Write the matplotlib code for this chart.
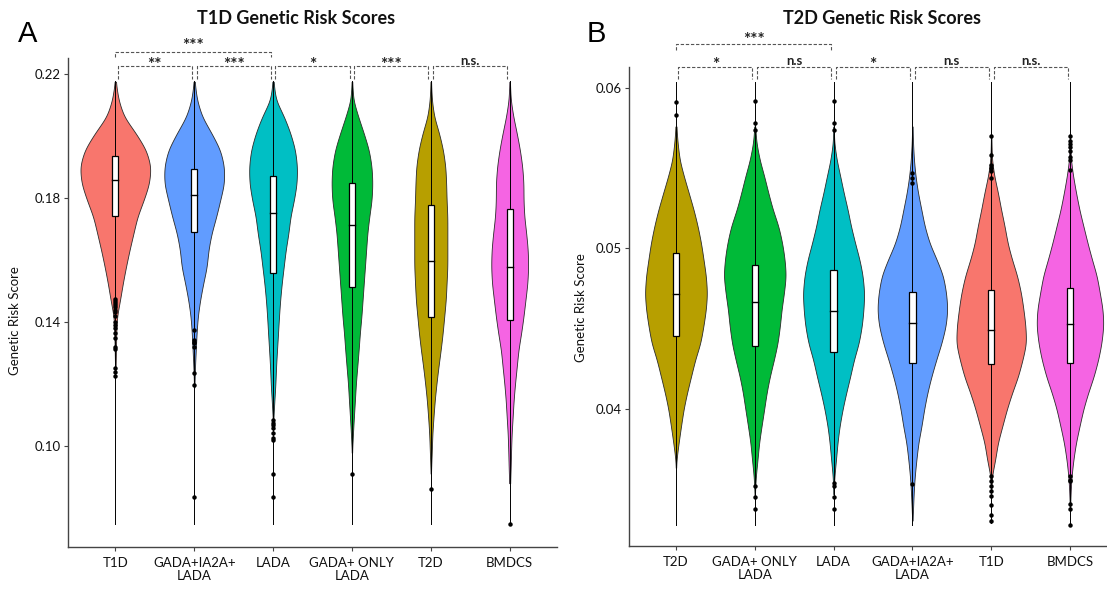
import numpy as np
import matplotlib.pyplot as plt
from matplotlib.patches import Rectangle

plt.rcParams['font.family'] = ['Lato', 'DejaVu Sans']

# ---------------- panel A : T1D genetic risk scores ----------------
a_labels = ["T1D", "GADA+IA2A+\nLADA", "LADA", "GADA+ ONLY\nLADA", "T2D", "BMDCS"]
a_colors = ['#F8766D', '#619CFF', '#00BFC4', '#00BA38', '#B79F00', '#F564E3']

# score levels at which the violin half widths were taken
a_grid = [0.2175, 0.2116, 0.2062, 0.2009, 0.1955, 0.1901, 0.1847, 0.1793, 0.1740,
          0.1686, 0.1632, 0.1578, 0.1525, 0.1471, 0.1417, 0.1363, 0.1309, 0.1256,
          0.1202, 0.1148, 0.1094, 0.1041, 0.0987, 0.0933, 0.0880]
a_t1d_w = [0.005, 0.04, 0.11, 0.26, 0.39, 0.45, 0.43, 0.36, 0.28, 0.23, 0.18, 0.135,
           0.095, 0.06, 0.02, 0.012, 0.008, 0.004, 0, 0, 0, 0, 0, 0, 0]
a_gada_ia2a_w = [0.005, 0.035, 0.10, 0.22, 0.33, 0.38, 0.38, 0.33, 0.28, 0.22, 0.18, 0.16,
                 0.115, 0.075, 0.045, 0.03, 0.02, 0.01, 0.004, 0, 0, 0, 0, 0, 0]
a_lada_w = [0.005, 0.035, 0.14, 0.22, 0.28, 0.305, 0.30, 0.265, 0.22, 0.195, 0.16, 0.135,
            0.11, 0.09, 0.075, 0.063, 0.05, 0.038, 0.03, 0.017, 0.005, 0, 0, 0, 0]
a_gada_only_w = [0.003, 0.017, 0.08, 0.15, 0.215, 0.25, 0.26, 0.25, 0.22, 0.195, 0.18, 0.165,
                 0.15, 0.135, 0.12, 0.10, 0.085, 0.068, 0.05, 0.038, 0.025, 0.013, 0.003, 0, 0]
a_t2d_w = [0.003, 0.013, 0.042, 0.105, 0.155, 0.185, 0.195, 0.20, 0.21, 0.21, 0.21, 0.21,
           0.20, 0.19, 0.17, 0.15, 0.125, 0.097, 0.072, 0.05, 0.034, 0.02, 0.013, 0.005, 0]
a_bmdcs_w = [0.003, 0.013, 0.046, 0.09, 0.13, 0.16, 0.175, 0.175, 0.185, 0.21, 0.23, 0.235,
             0.225, 0.20, 0.175, 0.145, 0.11, 0.09, 0.068, 0.05, 0.038, 0.025, 0.018, 0.013, 0.006]

a_q1 = [0.1742, 0.1689, 0.1559, 0.1512, 0.1417, 0.1408]
a_med = [0.1857, 0.1809, 0.1750, 0.1713, 0.1596, 0.1576]
a_q3 = [0.1936, 0.1894, 0.1872, 0.1849, 0.1779, 0.1764]
a_lo = [0.0750, 0.0750, 0.0750, 0.0750, 0.0750, 0.0748]
a_hi = [0.2177, 0.2177, 0.2177, 0.2177, 0.2177, 0.2177]

a_t1d_out = [0.1475, 0.1468, 0.1461, 0.1454, 0.1447, 0.1440, 0.1433, 0.1420, 0.1401,
             0.1390, 0.1380, 0.1363, 0.1348, 0.1320, 0.1312, 0.1250, 0.1240, 0.1225]
a_gada_ia2a_out = [0.1374, 0.1342, 0.1337, 0.1331, 0.1320, 0.1236, 0.1197, 0.0837]
a_lada_out = [0.1084, 0.1075, 0.1068, 0.1057, 0.1041, 0.1025, 0.1019, 0.0911, 0.0837]
a_gada_only_out = [0.0911]
a_t2d_out = [0.0861]
a_bmdcs_out = [0.0749]

a_pairs = [(1, 2, '**'), (2, 3, '***'), (3, 4, '*'), (4, 5, '***'), (5, 6, 'n.s.')]
a_wide = (1, 3, '***')

# ---------------- panel B : T2D genetic risk scores ----------------
b_labels = ["T2D", "GADA+ ONLY\nLADA", "LADA", "GADA+IA2A+\nLADA", "T1D", "BMDCS"]
b_colors = ['#B79F00', '#00BA38', '#00BFC4', '#619CFF', '#F8766D', '#F564E3']

b_grid = [0.0576, 0.0566, 0.0555, 0.0545, 0.0535, 0.0524, 0.0514, 0.0503, 0.0493,
          0.0483, 0.0472, 0.0462, 0.0452, 0.0441, 0.0431, 0.0420, 0.0410, 0.0400,
          0.0389, 0.0379, 0.0368, 0.0358, 0.0348, 0.0337, 0.0327]
b_t2d_w = [0.005, 0.02, 0.047, 0.10, 0.16, 0.225, 0.275, 0.32, 0.35, 0.38, 0.395, 0.38,
           0.35, 0.31, 0.245, 0.19, 0.14, 0.097, 0.063, 0.034, 0.005, 0, 0, 0, 0]
b_gada_only_w = [0.005, 0.02, 0.063, 0.12, 0.17, 0.23, 0.30, 0.35, 0.38, 0.395, 0.37, 0.34,
                 0.32, 0.29, 0.245, 0.19, 0.15, 0.12, 0.085, 0.055, 0.034, 0.013, 0.003, 0, 0]
b_lada_w = [0.003, 0.008, 0.04, 0.085, 0.127, 0.18, 0.22, 0.275, 0.33, 0.37, 0.39, 0.38,
            0.36, 0.32, 0.26, 0.21, 0.16, 0.115, 0.075, 0.05, 0.03, 0.01, 0.003, 0, 0]
b_gada_ia2a_w = [0.003, 0.008, 0.02, 0.04, 0.07, 0.115, 0.155, 0.22, 0.31, 0.39, 0.43, 0.445,
                 0.425, 0.37, 0.305, 0.24, 0.19, 0.15, 0.115, 0.076, 0.05, 0.03, 0.017, 0.008, 0]
b_t1d_w = [0.002, 0.004, 0.01, 0.04, 0.085, 0.127, 0.17, 0.21, 0.265, 0.33, 0.38, 0.41,
           0.435, 0.445, 0.40, 0.34, 0.265, 0.20, 0.14, 0.085, 0.05, 0.008, 0.002, 0, 0]
b_bmdcs_w = [0.002, 0.004, 0.012, 0.04, 0.076, 0.12, 0.17, 0.225, 0.28, 0.34, 0.38, 0.415,
             0.425, 0.40, 0.36, 0.30, 0.23, 0.17, 0.12, 0.076, 0.042, 0.02, 0.008, 0.002, 0]

b_q1 = [0.04457, 0.04394, 0.04353, 0.04286, 0.04282, 0.04286]
b_med = [0.04716, 0.04666, 0.04608, 0.04536, 0.04494, 0.04532]
b_q3 = [0.04972, 0.04899, 0.04864, 0.04729, 0.04743, 0.04754]
b_lo = [0.0328, 0.0328, 0.0328, 0.0328, 0.0329, 0.0328]
b_hi = [0.0604, 0.0604, 0.0604, 0.0604, 0.0604, 0.0604]

b_t2d_out = [0.0591, 0.0583]
b_gada_only_out = [0.0592, 0.0578, 0.0574, 0.0352, 0.0345, 0.0338]
b_lada_out = [0.0592, 0.0578, 0.0574, 0.0354, 0.0352, 0.0345, 0.0338]
b_gada_ia2a_out = [0.0547, 0.0544, 0.0541, 0.0353]
b_t1d_out = [0.0570, 0.0558, 0.0552, 0.0550, 0.0548, 0.0544, 0.0358, 0.0355, 0.0352,
             0.0349, 0.0346, 0.0340, 0.0334, 0.0330]
b_bmdcs_out = [0.0570, 0.0567, 0.0565, 0.0563, 0.0561, 0.0557, 0.0555, 0.0549, 0.0358,
               0.0356, 0.0355, 0.0341, 0.0338, 0.0328]

b_pairs = [(1, 2, '*'), (2, 3, 'n.s'), (3, 4, '*'), (4, 5, 'n.s'), (5, 6, 'n.s.')]
b_wide = (1, 3, '***')

BOX_W = 0.08


def smooth(grid, hw, n=500):
    # resample the half-width profile and soften the corners
    g = np.asarray(grid, float)[::-1]
    h = np.asarray(hw, float)[::-1]
    yy = np.linspace(g[0], g[-1], n)
    w = np.interp(yy, g, h)
    k = np.exp(-0.5 * (np.arange(-20, 21) / 7.0) ** 2)
    k /= k.sum()
    w = np.convolve(np.pad(w, 20, mode='edge'), k, mode='valid')
    return yy, w


def draw_violin(ax, x, grid, hw, color, q1, med, q3, lo, hi, out):
    yy, w = smooth(grid, hw)
    ax.fill_betweenx(yy, x - w, x + w, where=w > 0.003, facecolor=color,
                     edgecolor='#2b2b2b', linewidth=0.6, zorder=2)
    ax.plot([x, x], [lo, hi], color='black', lw=0.7, zorder=3)
    ax.add_patch(Rectangle((x - BOX_W / 2, q1), BOX_W, q3 - q1, facecolor='white',
                           edgecolor='black', lw=0.9, zorder=4))
    ax.plot([x - BOX_W / 2, x + BOX_W / 2], [med, med], color='black', lw=1.0, zorder=5)
    ax.plot([x] * len(out), out, 'o', color='black', ms=3.2, mew=0, zorder=6)


def bracket(ax, x1, x2, y, leg, label, star_y, ns_y):
    kw = dict(color='#555555', lw=0.8, ls=(0, (3, 1.6)), clip_on=False, zorder=7)
    ax.plot([x1, x1, x2, x2], [leg, y, y, leg], **kw)
    if label.startswith('*'):
        ax.text((x1 + x2) / 2, star_y, label, ha='center', va='center', fontsize=12.5,
                fontweight='bold', color='#222222', clip_on=False)
    else:
        ax.text((x1 + x2) / 2, ns_y, label, ha='center', va='center', fontsize=9.5,
                fontweight='bold', color='#222222', clip_on=False)


def style_axes(ax, ticks, ticklabels, labels, xlim, ylim):
    ax.set_xlim(*xlim)
    ax.set_ylim(*ylim)
    for s in ['top', 'right']:
        ax.spines[s].set_visible(False)
    for s in ['left', 'bottom']:
        ax.spines[s].set_color('#444444')
        ax.spines[s].set_linewidth(1.0)
    ax.set_xticks(range(1, 7))
    ax.set_xticklabels(labels, fontsize=9.5, color='#111111', linespacing=1.1)
    ax.set_yticks(ticks)
    ax.set_yticklabels(ticklabels, fontsize=9.5, color='#111111')
    ax.tick_params(length=3, width=0.8, color='#444444', pad=2)
    ax.tick_params(axis='x', pad=4)
    ax.set_ylabel('Genetic Risk Score', fontsize=9.5, color='#111111')


fig = plt.figure(figsize=(11.07, 5.9), dpi=100)

# panel A
axA = fig.add_axes([68 / 1107, 43 / 590, 489 / 1107, 489 / 590])
a_widths = [a_t1d_w, a_gada_ia2a_w, a_lada_w, a_gada_only_w, a_t2d_w, a_bmdcs_w]
a_outs = [a_t1d_out, a_gada_ia2a_out, a_lada_out, a_gada_only_out, a_t2d_out, a_bmdcs_out]
for i in range(6):
    draw_violin(axA, i + 1, a_grid, a_widths[i], a_colors[i], a_q1[i], a_med[i], a_q3[i],
                a_lo[i], a_hi[i], a_outs[i])
style_axes(axA, [0.10, 0.14, 0.18, 0.22], ['0.10', '0.14', '0.18', '0.22'], a_labels,
           (0.4, 6.6), (0.06742, 0.22516))
axA.yaxis.set_label_coords(-0.096, 0.464)
for p, q, lab in a_pairs:
    bracket(axA, p + 0.03, q - 0.03, 0.2226, 0.2184, lab, 0.2230, 0.2242)
bracket(axA, a_wide[0], a_wide[1] - 0.03, 0.2271, 0.2255, a_wide[2], 0.2290, 0.2297)

# panel B
axB = fig.add_axes([629 / 1107, 44 / 590, 478 / 1107, 479 / 590])
b_widths = [b_t2d_w, b_gada_only_w, b_lada_w, b_gada_ia2a_w, b_t1d_w, b_bmdcs_w]
b_outs = [b_t2d_out, b_gada_only_out, b_lada_out, b_gada_ia2a_out, b_t1d_out, b_bmdcs_out]
for i in range(6):
    draw_violin(axB, i + 1, b_grid, b_widths[i], b_colors[i], b_q1[i], b_med[i], b_q3[i],
                b_lo[i], b_hi[i], b_outs[i])
style_axes(axB, [0.04, 0.05, 0.06], ['0.04', '0.05', '0.06'], b_labels,
           (0.404, 6.47), (0.031464, 0.061308))
axB.yaxis.set_label_coords(-0.088, 0.497)
for p, q, lab in b_pairs:
    bracket(axB, p + 0.03, q - 0.03, 0.06131, 0.06056, lab, 0.06145, 0.06168)
bracket(axB, b_wide[0], b_wide[1] - 0.03, 0.06274, 0.06237, b_wide[2], 0.06297, 0.0631)

# titles and panel letters
fig.text(296 / 1107, 1 - 18 / 590, 'T1D Genetic Risk Scores', ha='center', va='center',
         fontsize=13, fontweight='bold', color='#111111')
fig.text(882 / 1107, 1 - 19 / 590, 'T2D Genetic Risk Scores', ha='center', va='center',
         fontsize=13, fontweight='bold', color='#111111')
fig.text(28 / 1107, 1 - 34 / 590, 'A', ha='center', va='center', fontsize=21,
         family=['Liberation Sans', 'DejaVu Sans'], color='black')
fig.text(596 / 1107, 1 - 34 / 590, 'B', ha='center', va='center', fontsize=21,
         family=['Liberation Sans', 'DejaVu Sans'], color='black')

fig.savefig('out.png', dpi=100)
